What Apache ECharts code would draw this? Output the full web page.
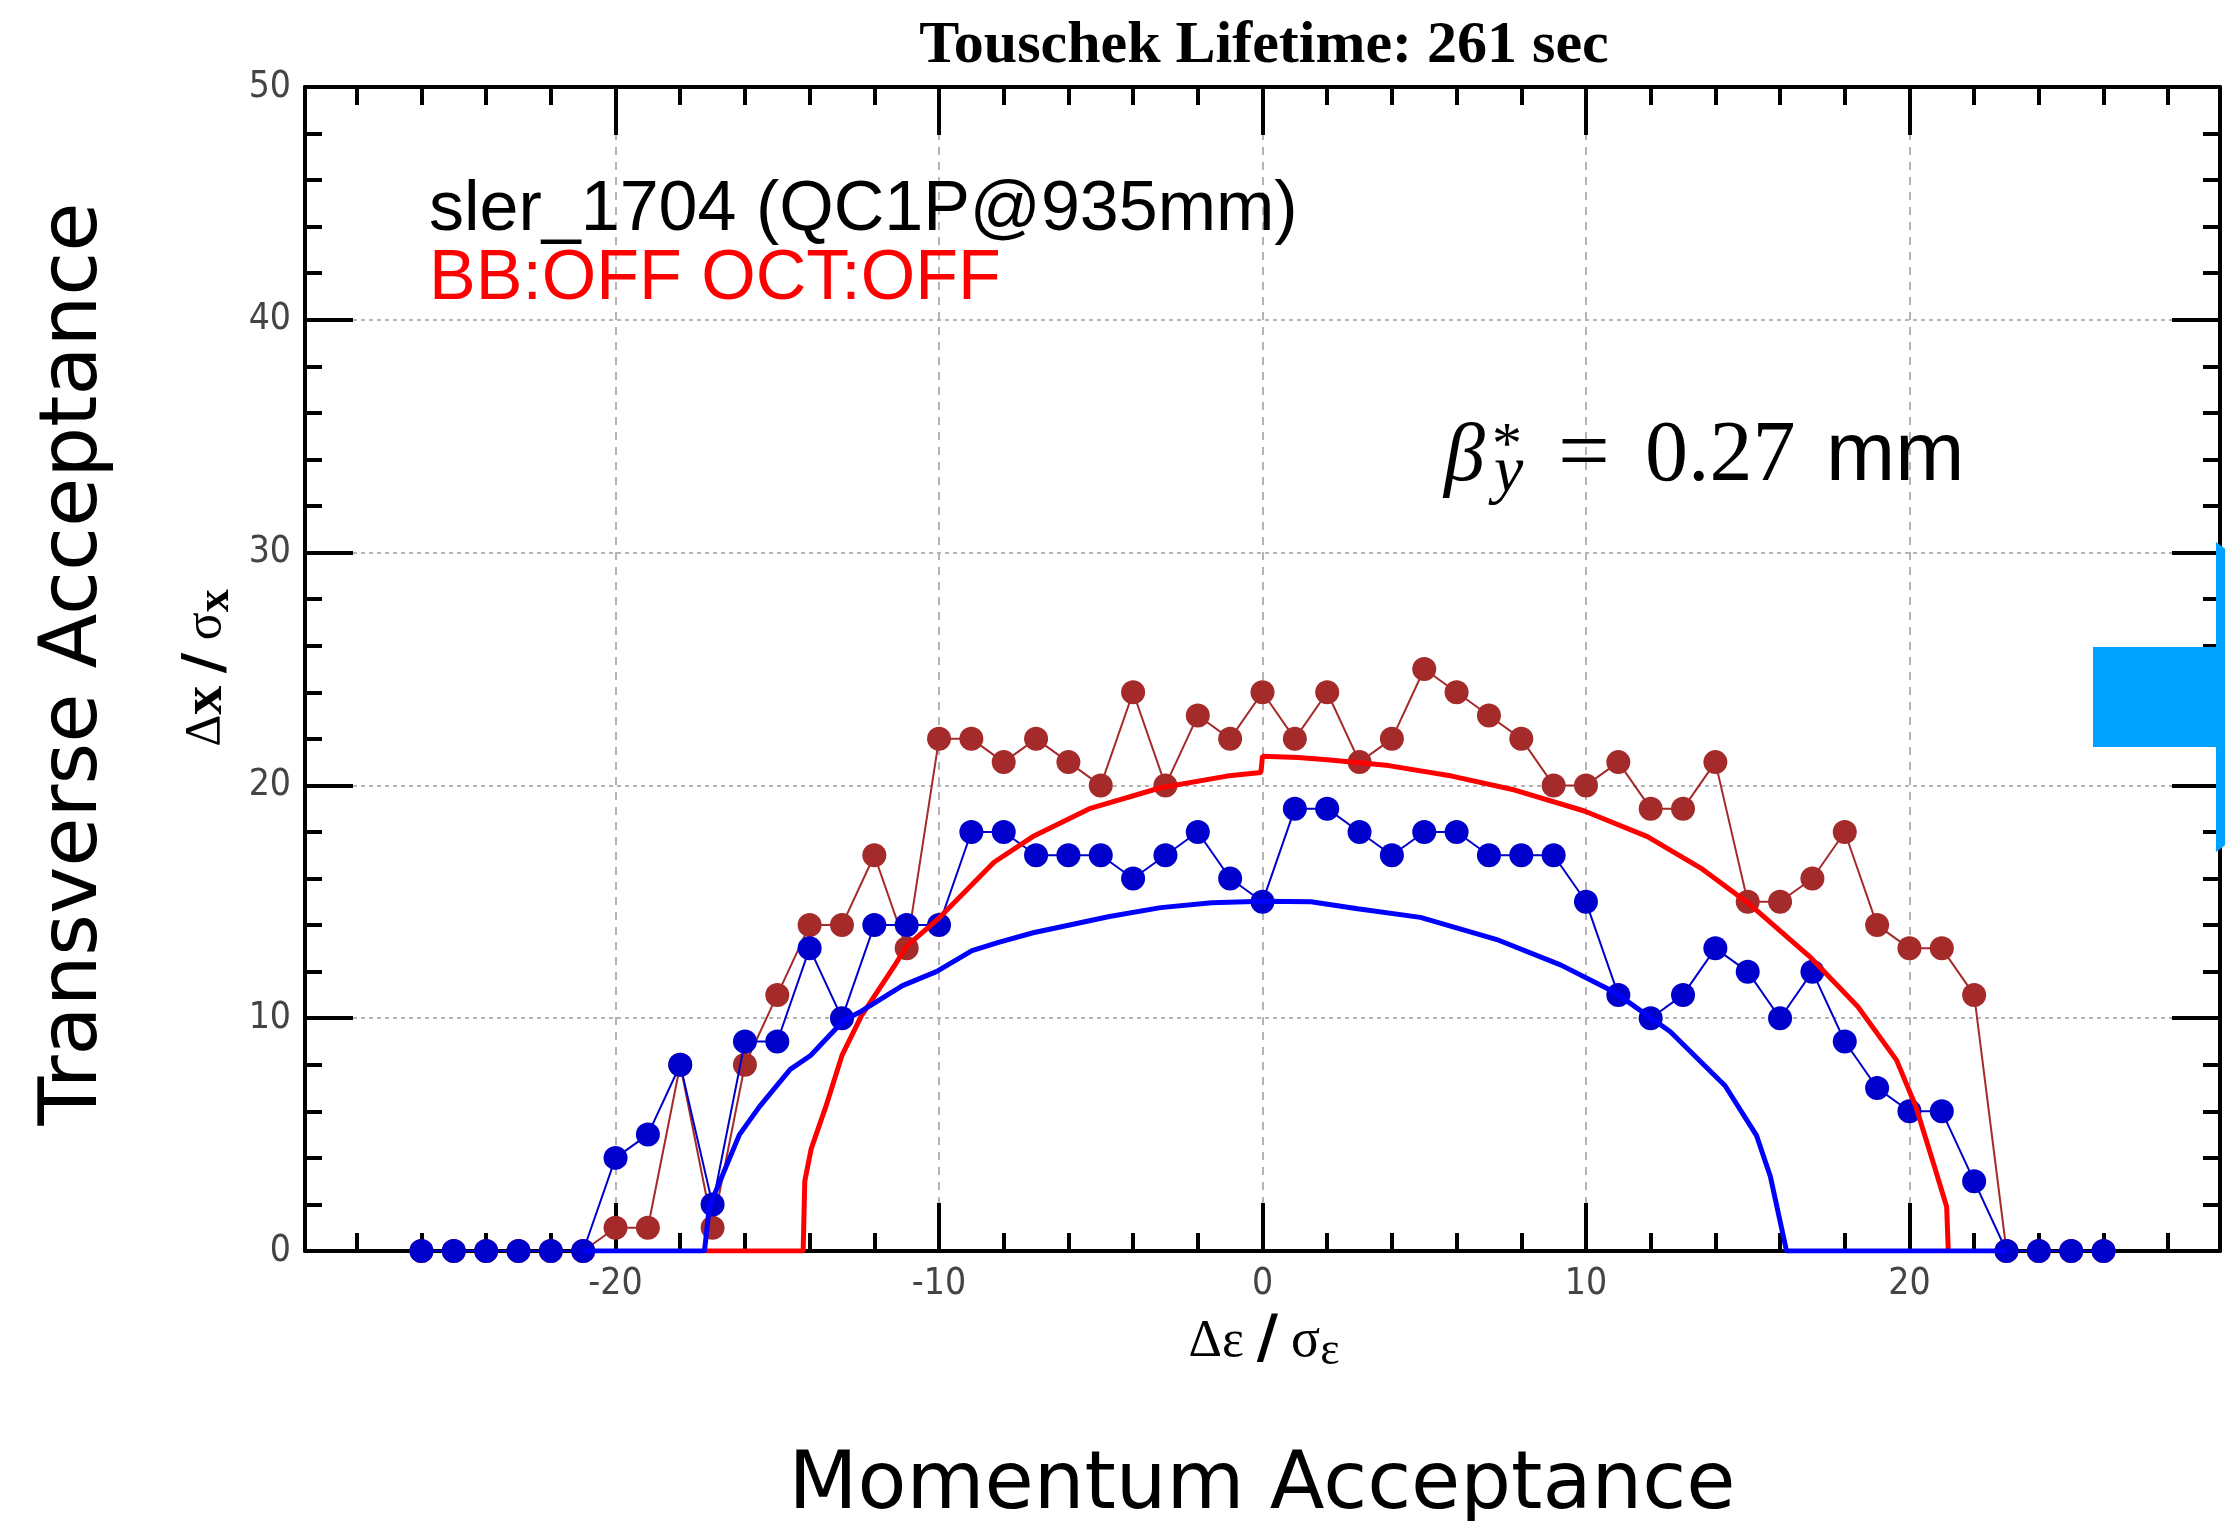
<!DOCTYPE html>
<html>
<head>
<meta charset="utf-8">
<script src="https://cdn.jsdelivr.net/npm/echarts@6/dist/echarts.min.js"></script>
<style>
  html, body { margin: 0; padding: 0; background: #fff; }
  #chart { width: 2225px; height: 1521px; }
</style>
</head>
<body>
<div id="chart"></div>
<script>
// Momentum offsets Δε/σε at which the tracking was run
const deltaE = [-26, -25, -24, -23, -22, -21, -20, -19, -18, -17, -16, -15, -14, -13, -12, -11,
  -10, -9, -8, -7, -6, -5, -4, -3, -2, -1, 0, 1, 2, 3, 4, 5, 6, 7, 8, 9, 10,
  11, 12, 13, 14, 15, 16, 17, 18, 19, 20, 21, 22, 23, 24, 25, 26];

// Tracked transverse acceptance Δx/σx (brown markers)
const accBrown = [0, 0, 0, 0, 0, 0, 1, 1, 8, 1, 8, 11, 14, 14, 17, 13,
  22, 22, 21, 22, 21, 20, 24, 20, 23, 22, 24, 22, 24, 21, 22, 25, 24, 23, 22, 20, 20,
  21, 19, 19, 21, 15, 15, 16, 18, 14, 13, 13, 11, 0, 0, 0, 0];

// Tracked transverse acceptance Δx/σx (blue markers)
const accBlue = [0, 0, 0, 0, 0, 0, 4, 5, 8, 2, 9, 9, 13, 10, 14, 14,
  14, 18, 18, 17, 17, 17, 16, 17, 18, 16, 15, 19, 19, 18, 17, 18, 18, 17, 17, 17, 15,
  11, 10, 11, 13, 12, 10, 12, 9, 7, 6, 6, 3, 0, 0, 0, 0];

// Aperture curve, red
const redCurveX = [-17.2, -14.2, -14.15, -13.95, -13.5, -13.0, -12.4, -11.4, -11.0, -10.0, -8.3,
  -7.1, -5.35, -3.15, -1.1, -0.05, 0.0, 1.1, 2.0, 3.9, 5.85, 7.8, 9.95, 11.9, 13.6, 15.0,
  16.95, 18.4, 19.6, 20.2, 20.8, 21.15, 21.2];
const redCurveY = [0, 0, 3.0, 4.4, 6.2, 8.4, 10.1, 12.2, 13.1, 14.3, 16.7,
  17.8, 19.0, 19.9, 20.4, 20.55, 21.25, 21.2, 21.1, 20.85, 20.4, 19.8, 18.9, 17.8, 16.4, 14.96,
  12.6, 10.5, 8.2, 6.2, 3.5, 1.9, 0];

// Aperture curve, blue
const blueCurveX = [-21.0, -17.25, -17.1, -16.17, -15.55, -14.6, -13.97, -12.95, -12.4, -11.13,
  -10.08, -8.98, -8.16, -7.09, -4.73, -3.15, -1.57, 0.0, 1.5, 2.94, 4.88, 7.3, 9.23, 10.9,
  12.6, 14.3, 15.27, 15.7, 16.2, 23.0];
const blueCurveY = [0, 0, 1.9, 5.0, 6.2, 7.8, 8.4, 9.9, 10.3, 11.4,
  12.0, 12.9, 13.26, 13.67, 14.37, 14.75, 14.96, 15.02, 15.0, 14.7, 14.33, 13.35, 12.28, 11.1,
  9.43, 7.1, 4.97, 3.2, 0, 0];

// Axis ticks
const xMajorTicks = [-20, -10, 0, 10, 20];
const xMinorTicks = [-28, -26, -24, -22, -18, -16, -14, -12, -8, -6, -4, -2,
  2, 4, 6, 8, 12, 14, 16, 18, 22, 24, 26, 28];
const xRange = [-29.6, 29.6];
const yRange = [0, 50];
const yStep = 10;

const pair = (xs, ys) => xs.map((x, i) => [x, ys[i]]);

const tickFont = "'Liberation Sans Narrow', 'DejaVu Sans Condensed', 'Liberation Sans', sans-serif";
const serif = "'Liberation Serif', 'DejaVu Serif', serif";
const sans = "'Liberation Sans', Arial, sans-serif";
const heavy = "'DejaVu Sans', sans-serif";
const blk = { color: '#000', width: 4 };

function xAxisDef(position, ticks, len, showLine, showLabel, showSplit) {
  return {
    type: 'value', position: position, min: xRange[0], max: xRange[1],
    axisLine: { show: showLine, onZero: false, lineStyle: blk },
    axisTick: { show: true, inside: true, length: len, customValues: ticks, lineStyle: blk },
    axisLabel: {
      show: showLabel, customValues: ticks, margin: 15,
      color: '#444', fontSize: 37, fontFamily: tickFont
    },
    splitLine: {
      show: showSplit,
      lineStyle: { color: '#b4b4b4', width: 2, type: [8, 7] }
    }
  };
}

function yAxisDef(position, showLabel, showSplit) {
  return {
    type: 'value', position: position, min: yRange[0], max: yRange[1], interval: yStep,
    axisLine: { show: true, onZero: false, lineStyle: blk },
    axisTick: { show: true, inside: true, length: 48, lineStyle: blk },
    minorTick: { show: true, splitNumber: 5, length: 17, lineStyle: blk },
    axisLabel: {
      show: showLabel, margin: 14,
      color: '#444', fontSize: 37, fontFamily: tickFont
    },
    splitLine: {
      show: showSplit,
      lineStyle: { color: '#b4b4b4', width: 2, type: [4, 4] }
    },
    minorSplitLine: { show: false }
  };
}

const chart = echarts.init(document.getElementById('chart'), null, { renderer: 'canvas' });

chart.setOption({
  animation: false,
  backgroundColor: '#ffffff',
  grid: { left: 305, right: 5, top: 87, bottom: 270, containLabel: false },
  xAxis: [
    xAxisDef('bottom', xMajorTicks, 48, true, true, true),
    xAxisDef('bottom', xMinorTicks, 18, false, false, false),
    xAxisDef('top', xMajorTicks, 48, true, false, false),
    xAxisDef('top', xMinorTicks, 18, false, false, false)
  ],
  yAxis: [
    yAxisDef('left', true, true),
    yAxisDef('right', false, false)
  ],
  series: [
    {
      type: 'line', data: pair(deltaE, accBrown),
      symbol: 'circle', symbolSize: 24,
      itemStyle: { color: '#a52a2a' },
      lineStyle: { color: '#a52a2a', width: 2 },
      z: 3
    },
    {
      type: 'line', data: pair(deltaE, accBlue),
      symbol: 'circle', symbolSize: 24,
      itemStyle: { color: '#0000cc' },
      lineStyle: { color: '#0000cc', width: 2 },
      z: 4
    },
    {
      type: 'line', data: pair(redCurveX, redCurveY),
      showSymbol: false, symbol: 'none',
      lineStyle: { color: '#ff0000', width: 5 },
      z: 5
    },
    {
      type: 'line', data: pair(blueCurveX, blueCurveY),
      showSymbol: false, symbol: 'none',
      lineStyle: { color: '#0000ff', width: 5 },
      z: 6
    }
  ],
  graphic: [
    // plot title
    {
      type: 'text', x: 1264, y: 46, z: 10,
      style: {
        text: 'Touschek Lifetime: 261 sec', align: 'center', verticalAlign: 'middle',
        fontFamily: serif, fontWeight: 'bold', fontSize: 60, fill: '#000'
      }
    },
    // lattice / condition labels
    {
      type: 'text', x: 429, y: 211, z: 10,
      style: {
        text: 'sler_1704 (QC1P@935mm)', align: 'left', verticalAlign: 'middle',
        fontFamily: sans, fontSize: 70, fill: '#000'
      }
    },
    {
      type: 'text', x: 429, y: 280, z: 10,
      style: {
        text: 'BB:OFF OCT:OFF', align: 'left', verticalAlign: 'middle',
        fontFamily: sans, fontSize: 70, fill: '#ff0000'
      }
    },
    // beta* annotation
    {
      type: 'text', x: 1444, y: 458, z: 10,
      style: { text: 'β', align: 'left', verticalAlign: 'middle',
        fontFamily: serif, fontStyle: 'italic', fontSize: 82, fill: '#000' }
    },
    {
      type: 'text', x: 1492, y: 447, z: 10,
      style: { text: '*', align: 'left', verticalAlign: 'middle',
        fontFamily: serif, fontSize: 60, fill: '#000' }
    },
    {
      type: 'text', x: 1494, y: 474, z: 10,
      style: { text: 'y', align: 'left', verticalAlign: 'middle',
        fontFamily: serif, fontStyle: 'italic', fontSize: 66, fill: '#000' }
    },
    {
      type: 'text', x: 1558, y: 457, z: 10,
      style: { text: '=', align: 'left', verticalAlign: 'middle',
        fontFamily: serif, fontSize: 92, fill: '#000' }
    },
    {
      type: 'text', x: 1645, y: 457, z: 10,
      style: { text: '0.27', align: 'left', verticalAlign: 'middle',
        fontFamily: serif, fontSize: 86, fill: '#000' }
    },
    {
      type: 'text', x: 1826, y: 457, z: 10,
      style: { text: 'mm', align: 'left', verticalAlign: 'middle',
        fontFamily: sans, fontSize: 83, fill: '#000' }
    },
    // y axis name
    {
      type: 'text', x: 206, y: 668, rotation: Math.PI / 2, z: 10,
      style: {
        text: '{d|Δ}{x|x} {sl|/} {s|σ}{sx|x}', align: 'center', verticalAlign: 'middle',
        fontFamily: serif, fontSize: 50, fill: '#000',
        rich: {
          d: { fontFamily: serif, fontSize: 50, lineHeight: 66, fill: '#000' },
          x: { fontFamily: serif, fontWeight: 'bold', fontSize: 58, lineHeight: 66, fill: '#000' },
          sl: { fontFamily: heavy, fontWeight: 'bold', fontSize: 56, lineHeight: 66, fill: '#000' },
          s: { fontFamily: serif, fontSize: 52, lineHeight: 66, fill: '#000' },
          sx: { fontFamily: serif, fontWeight: 'bold', fontSize: 46, lineHeight: 34,
                verticalAlign: 'bottom', fill: '#000' }
        }
      }
    },
    // x axis name
    {
      type: 'text', x: 1264, y: 1342, z: 10,
      style: {
        text: '{d|Δε} {sl|/} {s|σ}{se|ε}', align: 'center', verticalAlign: 'middle',
        fontFamily: serif, fontSize: 52, fill: '#000',
        rich: {
          d: { fontFamily: serif, fontSize: 52, lineHeight: 66, fill: '#000' },
          sl: { fontFamily: heavy, fontWeight: 'bold', fontSize: 58, lineHeight: 66, fill: '#000' },
          s: { fontFamily: serif, fontSize: 54, lineHeight: 66, fill: '#000' },
          se: { fontFamily: serif, fontSize: 46, lineHeight: 32,
                verticalAlign: 'bottom', fill: '#000' }
        }
      }
    },
    // outer axis titles
    {
      type: 'text', x: 75, y: 664, rotation: Math.PI / 2, z: 10,
      style: {
        text: 'Transverse Acceptance', align: 'center', verticalAlign: 'middle',
        fontFamily: "'DejaVu Sans', Verdana, sans-serif", fontSize: 80, fill: '#000'
      }
    },
    {
      type: 'text', x: 1262, y: 1487, z: 10,
      style: {
        text: 'Momentum Acceptance', align: 'center', verticalAlign: 'middle',
        fontFamily: "'DejaVu Sans', Verdana, sans-serif", fontSize: 80, fill: '#000'
      }
    },
    // arrow at the right edge
    {
      type: 'rect', z: 20,
      shape: { x: 2093, y: 647, width: 140, height: 100 },
      style: { fill: '#00a2ff' }
    },
    {
      type: 'polygon', z: 20,
      shape: { points: [[2216, 542], [2426, 697], [2216, 852]] },
      style: { fill: '#00a2ff' }
    }
  ]
});
</script>
</body>
</html>
